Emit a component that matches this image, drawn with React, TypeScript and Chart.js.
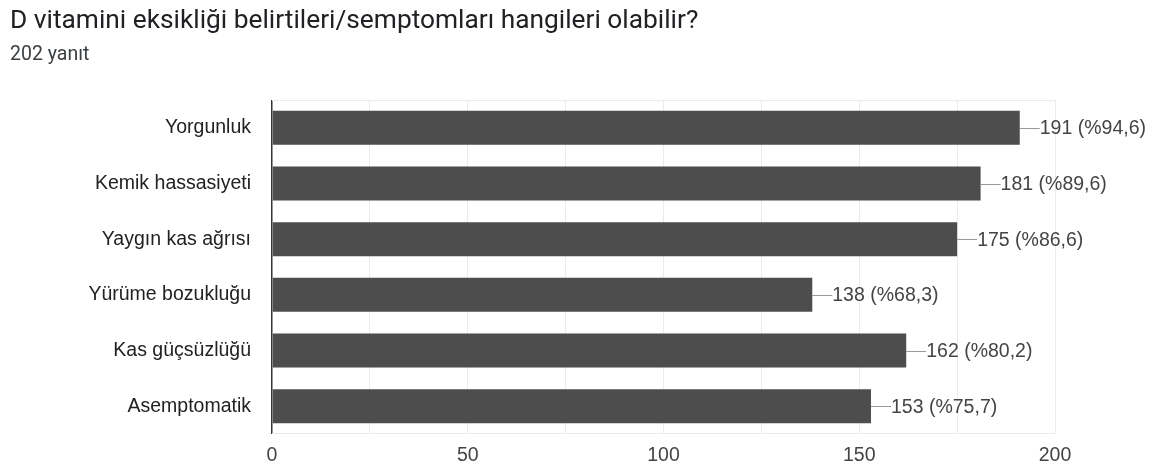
import React, { useEffect, useRef } from "react";
import { Chart, registerables } from "chart.js";

Chart.register(...registerables);

const title = "D vitamini eksikliği belirtileri/semptomları hangileri olabilir?";
const subtitle = "202 yanıt";
const totalResponses = 202;
const categories = [
  "Yorgunluk",
  "Kemik hassasiyeti",
  "Yaygın kas ağrısı",
  "Yürüme bozukluğu",
  "Kas güçsüzlüğü",
  "Asemptomatik",
];
const counts = [191, 181, 175, 138, 162, 153];
const xMin = 0;
const xMax = 200;
const xStep = 25;
const labeledTicks = [0, 50, 100, 150, 200];

const labelFont = '19.5px "Liberation Sans", Arial, sans-serif';

const overlayPlugin = {
  id: "overlay",
  beforeDraw(chart: any) {
    const ctx = chart.ctx;
    ctx.save();
    ctx.fillStyle = "#ffffff";
    ctx.fillRect(0, 0, chart.width, chart.height);
    ctx.fillStyle = "#202124";
    ctx.textBaseline = "alphabetic";
    ctx.textAlign = "left";
    ctx.font = '26.3px Roboto, "Noto Sans", sans-serif';
    ctx.fillText(title, 10, 28);
    ctx.fillStyle = "#3c4043";
    ctx.font = '19.5px Roboto, "Noto Sans", sans-serif';
    ctx.fillText(subtitle, 10, 60);
    ctx.restore();
  },
  beforeDatasetsDraw(chart: any) {
    const { ctx, chartArea } = chart;
    ctx.save();
    ctx.strokeStyle = "#ebebeb";
    ctx.lineWidth = 1;
    ctx.beginPath();
    ctx.moveTo(chartArea.left, chartArea.top + 0.5);
    ctx.lineTo(chartArea.right, chartArea.top + 0.5);
    ctx.moveTo(chartArea.left, chartArea.bottom - 0.5);
    ctx.lineTo(chartArea.right, chartArea.bottom - 0.5);
    ctx.stroke();
    ctx.restore();
  },
  afterDatasetsDraw(chart: any) {
    const ctx = chart.ctx;
    const meta = chart.getDatasetMeta(0);
    ctx.save();
    meta.data.forEach((bar: any, i: number) => {
      const v = counts[i];
      const pct = ((v / totalResponses) * 100).toFixed(1).replace(".", ",");
      const y = Math.round(bar.y) + 0.5;
      ctx.strokeStyle = "#999999";
      ctx.lineWidth = 1;
      ctx.beginPath();
      ctx.moveTo(bar.x, y);
      ctx.lineTo(bar.x + 20, y);
      ctx.stroke();
      ctx.fillStyle = "#444444";
      ctx.font = labelFont;
      ctx.textAlign = "left";
      ctx.textBaseline = "middle";
      ctx.fillText(`${v} (%${pct})`, bar.x + 20, bar.y + 1);
    });
    ctx.restore();
  },
};

export default function App() {
  const ref = useRef<HTMLCanvasElement | null>(null);
  useEffect(() => {
    if (!ref.current) return;
    const chart = new Chart(ref.current, {
      type: "bar",
      data: {
        labels: categories,
        datasets: [
          {
            data: counts,
            backgroundColor: "#4d4d4d",
            borderWidth: 0,
            barPercentage: 0.61,
            categoryPercentage: 1,
          },
        ],
      },
      options: {
        indexAxis: "y",
        animation: false,
        responsive: false,
        devicePixelRatio: 1,
        layout: { padding: { top: 100, right: 99, bottom: 0, left: 0 } },
        plugins: {
          legend: { display: false },
          tooltip: { enabled: false },
          title: { display: false },
        },
        scales: {
          x: {
            min: xMin,
            max: xMax,
            afterFit(scale: any) {
              scale.height = 34;
            },
            ticks: {
              stepSize: xStep,
              autoSkip: false,
              maxRotation: 0,
              padding: 10,
              color: "#444444",
              font: { family: '"Liberation Sans", Arial, sans-serif', size: 19.5 },
              callback: (v: any) => (labeledTicks.includes(Number(v)) ? String(v) : ""),
            },
            grid: {
              drawTicks: false,
              color: (c: any) => (c.tick && c.tick.value === 0 ? "#333333" : "#ebebeb"),
              lineWidth: (c: any) => (c.tick && c.tick.value === 0 ? 1.5 : 1),
            },
            border: { display: false },
          },
          y: {
            afterFit(scale: any) {
              scale.width = 272;
            },
            ticks: {
              padding: 21,
              color: "#222222",
              font: { family: '"Liberation Sans", Arial, sans-serif', size: 19.5 },
            },
            grid: { display: false, drawTicks: false },
            border: { display: false },
          },
        },
      },
      plugins: [overlayPlugin],
    });
    return () => chart.destroy();
  }, []);
  return (
    <div style={{ position: "absolute", left: 0, top: 0, width: 1154, height: 468, background: "#fff" }}>
      <canvas ref={ref} width={1154} height={468} style={{ display: "block" }} />
    </div>
  );
}
